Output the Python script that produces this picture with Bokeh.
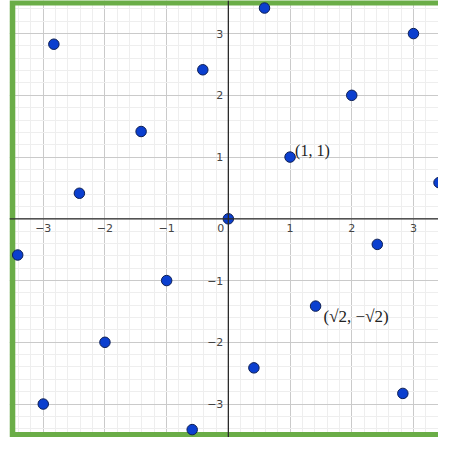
from bokeh.plotting import figure
from bokeh.models import Range1d, Grid, SingleIntervalTicker, Span, ColumnDataSource
from bokeh.core.properties import value
from bokeh.embed import file_html
from bokeh.resources import INLINE

# ---- data ----
point_x = [-2.828, 0.586, -0.414, -1.414, -2.414, -3.414, 0, 1, 2, 3,
           3.414, 2.414, 1.414, 0.414, -0.586, -1, -2, -3, 2.828]
point_y = [2.828, 3.414, 2.414, 1.414, 0.414, -0.586, 0, 1, 2, 3,
           0.586, -0.414, -1.414, -2.414, -3.414, -1, -2, -3, -2.828]

label_x = [1, 1.414]
label_y = [1, -1.414]
label_text = ["(1, 1)", "(√2, −√2)"]

x_ticks = [-3, -2, -1, 1, 2, 3]
x_tick_labels = ["−3", "−2", "−1", "1", "2", "3"]
y_ticks = [-3, -2, -1, 1, 2, 3]
y_tick_labels = ["−3", "−2", "−1", "1", "2", "3"]
origin_label = "0"

frame_half = 3.5  # green frame drawn at +-3.5

# ---- figure ----
p = figure(width=438, height=437, output_backend="svg", toolbar_location=None,
           x_axis_type=None, y_axis_type=None,
           x_range=Range1d(-3.547, 3.406), y_range=Range1d(-3.542, 3.536),
           min_border_left=9, min_border_right=0, min_border_top=0, min_border_bottom=0)
p.outline_line_color = None
p.background_fill_color = "white"
p.border_fill_color = "white"

for dim in (0, 1):
    p.add_layout(Grid(dimension=dim,
                      ticker=SingleIntervalTicker(interval=1, num_minor_ticks=5),
                      grid_line_color="#cacaca", grid_line_width=1,
                      minor_grid_line_color="#eeeeee", minor_grid_line_width=1))

# axes lines through origin
p.add_layout(Span(location=0, dimension="width", line_color="#2b2b2b", line_width=1.3))
p.add_layout(Span(location=0, dimension="height", line_color="#2b2b2b", line_width=1.3))

# tick labels
p.text(x=x_ticks, y=[0] * len(x_ticks), text=x_tick_labels,
       text_align="center", text_baseline="top", y_offset=5,
       text_font=value("DejaVu Sans"), text_font_size="11px", text_color="#444444")
p.text(x=[0] * len(y_ticks), y=y_ticks, text=y_tick_labels,
       text_align="right", text_baseline="middle", x_offset=-5,
       text_font=value("DejaVu Sans"), text_font_size="11px", text_color="#444444")
p.text(x=[0], y=[0], text=[origin_label],
       text_align="right", text_baseline="top", x_offset=-4, y_offset=5,
       text_font=value("DejaVu Sans"), text_font_size="11px", text_color="#444444")

# green frame (left, top, bottom)
p.line(x=[4.0, -frame_half, -frame_half, 4.0],
       y=[frame_half, frame_half, -frame_half, -frame_half],
       line_color="#6aad47", line_width=5.8, line_join="miter")

# points
src = ColumnDataSource(dict(x=point_x, y=point_y))
p.scatter("x", "y", source=src, size=10.5, fill_color="#0b3fcf",
          line_color="#0d1f55", line_width=1)

# point labels
p.text(x=label_x[:1], y=label_y[:1], text=label_text[:1],
       text_align="left", text_baseline="middle", x_offset=5, y_offset=-7,
       text_font=value("Liberation Serif"), text_font_size="16px", text_color="#222222")
p.text(x=label_x[1:], y=label_y[1:], text=label_text[1:],
       text_align="left", text_baseline="middle", x_offset=8, y_offset=10,
       text_font=value("Liberation Serif"), text_font_size="17px", text_color="#222222")

open("out.html", "w").write(file_html(p, INLINE))
